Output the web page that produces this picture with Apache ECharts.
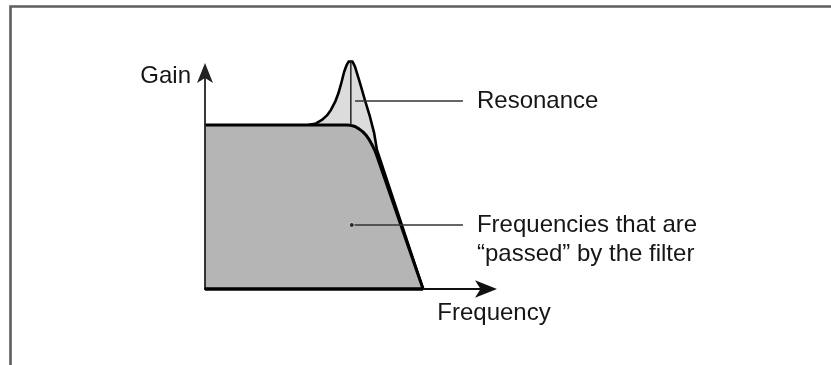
<!DOCTYPE html>
<html>
<head>
<meta charset="utf-8">
<script src="https://cdn.jsdelivr.net/npm/echarts@6/dist/echarts.min.js"></script>
<style>
html,body{margin:0;padding:0;background:#fff;}
#chart{width:831px;height:365px;}
</style>
</head>
<body>
<div id="chart"></div>
<script>
// ---- Data (diagram units) ----
const passbandX = [0, 50.5, 51.6, 53.4, 54.8, 56.2, 57.5, 58.5, 59.4, 60.3, 61.0, 77.6];
const passbandY = [75.6, 75.6, 75.5, 74.9, 73.8, 72.4, 70.6, 68.7, 66.6, 64.3, 62.0, 0];

const resonanceX = [36.7, 39.5, 41.6, 43.4, 44.8, 46.3, 47.5, 48.6, 49.5, 50.4, 51.1, 51.8, 52.5, 53.4, 55.2, 56.9, 58.7, 60.2, 61.2, 77.6];
const resonanceY = [75.6, 76.3, 77.9, 80.0, 82.5, 86.2, 90.3, 95.4, 100.0, 103.2, 104.8, 105.4, 104.8, 102.4, 94.8, 87.1, 79.4, 71.8, 64.1, 0];

const peakMarkerX = [51.9, 51.9];
const peakMarkerY = [75.6, 105.4];

const baselineX = [0, 77.6];
const baselineY = [0, 0];

const annotationTexts = ['Resonance', 'Frequencies that are\n\u201Cpassed\u201D by the filter'];
const annotationY = [86.6, 29.5];
const leaderStartX = [53.4, 52.2];
const leaderEndX = [91.8, 91.8];
const annotationLabelX = [96.6, 96.6];

const axisNames = { x: 'Frequency', y: 'Gain' };

// ---- Build option ----
const zip = (xs, ys) => xs.map((x, i) => [x, ys[i]]);
const FONT = 'Liberation Sans, Arial, sans-serif';
const TEXT_COLOR = '#161616';

const leaderSeries = annotationTexts.map((t, i) => ({
  type: 'line',
  name: 'leader' + i,
  data: [[leaderStartX[i], annotationY[i]], [leaderEndX[i], annotationY[i]]],
  symbol: 'none',
  lineStyle: { color: '#333', width: 1.5 },
  z: 6,
  silent: true,
  clip: false
}));

const labelSeries = {
  type: 'scatter',
  name: 'annotations',
  data: annotationTexts.map((t, i) => ({
    value: [annotationLabelX[i], annotationY[i]],
    label: {
      show: true,
      formatter: t,
      position: 'right',
      distance: 0,
      color: TEXT_COLOR,
      fontFamily: FONT,
      fontSize: 24,
      lineHeight: 29,
      align: 'left',
      offset: [0, i === 1 ? 14.5 : 0]
    }
  })),
  symbolSize: 1,
  itemStyle: { color: '#ffffff', opacity: 1 },
  z: 7,
  silent: true,
  clip: false
};

const option = {
  animation: false,
  backgroundColor: '#fff',
  grid: { left: 205, right: 345, top: 72, bottom: 76 },
  xAxis: {
    type: 'value', min: 0, max: 100,
    name: axisNames.x,
    nameLocation: 'end',
    nameGap: 8,
    nameTextStyle: {
      color: TEXT_COLOR, fontFamily: FONT, fontSize: 24,
      align: 'center', verticalAlign: 'top', padding: [12, 0, 0, 0]
    },
    axisLine: { show: true, lineStyle: { color: '#111', width: 2 }, symbol: ['none', 'arrow'], symbolSize: [13, 22], symbolOffset: [0, 11] },
    axisTick: { show: false }, axisLabel: { show: false }, splitLine: { show: false },
    z: 10
  },
  yAxis: {
    type: 'value', min: 0, max: 100,
    name: axisNames.y,
    nameLocation: 'end',
    nameGap: -4,
    nameTextStyle: {
      color: TEXT_COLOR, fontFamily: FONT, fontSize: 24,
      align: 'right', verticalAlign: 'middle', padding: [0, 14, 0, 0]
    },
    axisLine: { show: true, lineStyle: { color: '#222', width: 1.8 }, symbol: ['none', 'arrow'], symbolSize: [12, 20], symbolOffset: [0, 9] },
    axisTick: { show: false }, axisLabel: { show: false }, splitLine: { show: false },
    z: 10
  },
  graphic: [{
    type: 'polyline',
    shape: { points: [[10.5, 365], [10.5, 6.5], [831, 6.5]] },
    style: { fill: null, stroke: '#5e5e5e', lineWidth: 2.6 },
    silent: true
  }],
  series: [
    {
      type: 'line', name: 'Resonance',
      data: zip(resonanceX, resonanceY),
      symbol: 'none',
      lineStyle: { color: '#000', width: 2.6, join: 'round' },
      areaStyle: { color: '#dcdcdc', opacity: 1 },
      z: 2, clip: false, silent: true
    },
    {
      type: 'line', name: 'Passband',
      data: zip(passbandX, passbandY),
      symbol: 'none',
      lineStyle: { color: '#000', width: 3, join: 'round' },
      areaStyle: { color: '#b4b5b4', opacity: 1 },
      z: 3, clip: false, silent: true
    },
    {
      type: 'line', name: 'peakMarker',
      data: zip(peakMarkerX, peakMarkerY),
      symbol: 'none',
      lineStyle: { color: '#222', width: 1.5 },
      z: 4, clip: false, silent: true
    },
    {
      type: 'line', name: 'baseline',
      data: zip(baselineX, baselineY),
      symbol: 'none',
      lineStyle: { color: '#000', width: 3.5 },
      z: 11, clip: false, silent: true
    },
    ...leaderSeries,
    {
      type: 'scatter', name: 'dot',
      data: [[leaderStartX[1], annotationY[1]]],
      symbolSize: 5,
      itemStyle: { color: '#111', borderColor: '#e6e6e6', borderWidth: 1 },
      z: 8, silent: true
    },
    labelSeries
  ]
};

const chart = echarts.init(document.getElementById('chart'), null, { renderer: 'canvas' });
chart.setOption(option);
</script>
</body>
</html>
